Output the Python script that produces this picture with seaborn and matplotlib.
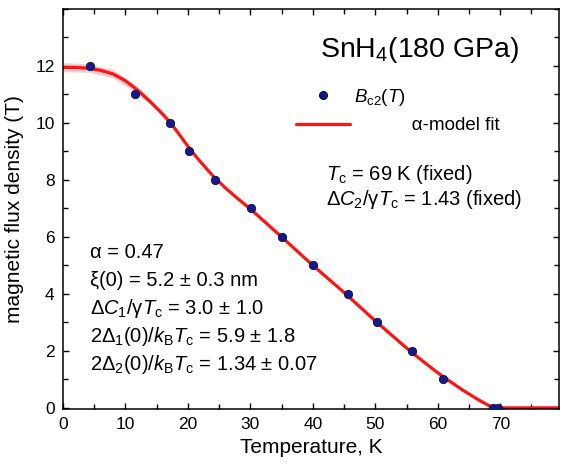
import matplotlib
matplotlib.use("Agg")
import matplotlib.pyplot as plt
import pandas as pd
import seaborn as sns
from matplotlib.lines import Line2D
from matplotlib.ticker import MultipleLocator

# measured Bc2(T) points
temp_pts = [4.3, 11.6, 17.1, 20.2, 24.4, 30.1, 35.1, 40.0, 45.6, 50.3, 55.8, 60.8, 68.9, 69.7]
bc2_pts = [12, 11, 10, 9, 8, 7, 6, 5, 4, 3, 2, 1, 0, 0]

# alpha-model fit
fit_t = [0, 2, 4, 6, 8, 10, 12, 14, 16, 17, 18, 19, 20, 21, 22, 24, 26, 28, 30, 35,
         40, 45, 50, 55, 56, 58, 60, 62, 64, 66, 67, 68, 69, 79.4]
fit_b = [11.95, 11.95, 11.92, 11.85, 11.72, 11.48, 11.14, 10.74, 10.3, 10.05, 9.78,
         9.48, 9.18, 8.9, 8.64, 8.14, 7.72, 7.34, 6.98, 6.0, 5.0, 4.05, 3.05, 2.1,
         1.92, 1.57, 1.23, 0.92, 0.62, 0.35, 0.22, 0.1, 0.0, 0.0]

# confidence band of the fit at low temperature
band_t = [0, 4, 8, 12, 16, 20]
band_lo = [11.8, 11.78, 11.58, 11.04, 10.24, 9.16]
band_hi = [12.12, 12.08, 11.88, 11.27, 10.38, 9.2]

sns.set_theme(style="ticks")
plt.rcParams["font.family"] = ["Liberation Sans", "DejaVu Sans"]
plt.rcParams["mathtext.fontset"] = "custom"
plt.rcParams["mathtext.rm"] = "Liberation Sans"
plt.rcParams["mathtext.it"] = "Liberation Sans:italic"
for key in ["text.color", "axes.labelcolor", "xtick.color", "ytick.color",
            "xtick.labelcolor", "ytick.labelcolor"]:
    plt.rcParams[key] = "black"

fig = plt.figure(figsize=(5.61, 4.69), dpi=100)
ax = fig.add_axes([0.1123, 0.128, 0.8841, 0.8528])

red = "#ff1414"
navy = "#161a86"

ax.fill_between(band_t, band_lo, band_hi, color="#f7a0a8", alpha=0.55, lw=0)
fit = pd.DataFrame({"T": fit_t, "B": fit_b})
sns.lineplot(data=fit, x="T", y="B", ax=ax, color=red, lw=2.3, sort=False, zorder=2)
pts = pd.DataFrame({"T": temp_pts, "B": bc2_pts})
sns.scatterplot(data=pts, x="T", y="B", ax=ax, color=navy, s=36, edgecolor="#0a0c50",
                linewidth=0.6, zorder=3)

ax.set_xlim(0, 79.4)
ax.set_ylim(-0.04, 14)
ax.set_xticks(range(0, 80, 10))
ax.xaxis.set_minor_locator(MultipleLocator(5))
ax.set_yticks(range(0, 13, 2))
ax.yaxis.set_minor_locator(MultipleLocator(1))
ax.tick_params(which="both", direction="in", top=True, right=True, color="black",
               width=1.0, labelsize=12.5, pad=6)
ax.tick_params(which="major", length=4.5)
ax.tick_params(which="minor", length=3.5)
for sp in ax.spines.values():
    sp.set_color("black")
    sp.set_linewidth(1.1)

ax.set_xlabel("Temperature, K", fontsize=15, labelpad=4)
ax.set_ylabel("magnetic flux density (T)", fontsize=15, labelpad=8)

# legend
handles = [
    Line2D([], [], ls="none", marker="o", ms=5.5, color=navy, mec="#0a0c50"),
    Line2D([], [], color=red, lw=2.3),
]
ax.legend(handles, [r"$B_\mathrm{c2}$($T$)", "           α-model fit"], loc="upper left",
          bbox_to_anchor=(0.435, 0.848), frameon=False, fontsize=13.5,
          handlelength=2.9, handletextpad=0.2, labelspacing=0.5)

ax.text(0.72, 0.8975, r"SnH$_4$(180 GPa)", transform=ax.transAxes, ha="center",
        va="center", fontsize=20.5)

kw = dict(transform=ax.transAxes, fontsize=14.5, va="center", ha="left")
ax.text(0.53, 0.585, r"$T_\mathrm{c}$ = 69 K (fixed)", **kw)
ax.text(0.53, 0.5225, r"Δ$C_2$/γ$T_\mathrm{c}$ = 1.43 (fixed)", **kw)

left_lines = [
    "α = 0.47",
    "ξ(0) = 5.2 ± 0.3 nm",
    r"Δ$C_1$/γ$T_\mathrm{c}$ = 3.0 ± 1.0",
    r"2Δ$_1$(0)/$k_\mathrm{B}T_\mathrm{c}$ = 5.9 ± 1.8",
    r"2Δ$_2$(0)/$k_\mathrm{B}T_\mathrm{c}$ = 1.34 ± 0.07",
]
for i, s in enumerate(left_lines):
    ax.text(0.055, 0.39 - i * 0.0695, s, **kw)

fig.savefig("out.png", dpi=100)
